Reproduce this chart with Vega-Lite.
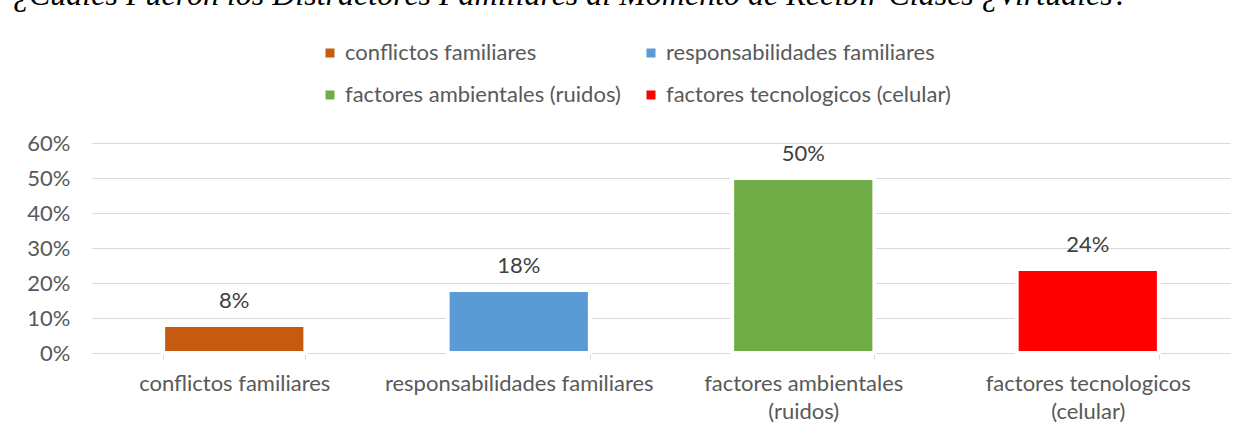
{
  "$schema": "https://vega.github.io/schema/vega-lite/v6.json",
  "width": 1138,
  "height": 210,
  "autosize": {"type": "none"},
  "padding": {"left": 92, "top": 143, "right": 19, "bottom": 83},
  "background": "white",
  "config": {"view": {"stroke": null}},
  "title": {
    "text": "¿Cuales Fueron los Distractores Familiares al Momento de Recibir Clases ¿Virtuales?",
    "anchor": "start",
    "frame": "group",
    "font": "Liberation Serif",
    "fontStyle": "italic",
    "fontWeight": "normal",
    "fontSize": 32,
    "color": "#000000",
    "dx": -79,
    "dy": -30,
    "offset": 0
  },
  "data": {
    "values": [
      {"categoria": "conflictos familiares", "valor": 0.08, "etiqueta": "8%"},
      {"categoria": "responsabilidades familiares", "valor": 0.18, "etiqueta": "18%"},
      {"categoria": "factores ambientales (ruidos)", "valor": 0.50, "etiqueta": "50%"},
      {"categoria": "factores tecnologicos (celular)", "valor": 0.24, "etiqueta": "24%"}
    ]
  },
  "encoding": {
    "x": {
      "field": "categoria",
      "type": "nominal",
      "sort": null,
      "scale": {"paddingInner": 0.5, "paddingOuter": 0.25},
      "axis": {
        "title": null,
        "labelAngle": 0,
        "labelFont": "Lato",
        "labelFontSize": 22,
        "labelColor": "#595959",
        "labelLineHeight": 28,
        "labelBaseline": "top",
        "labelPadding": 14,
        "labelLimit": 500,
        "labelExpr": "datum.label == 'factores ambientales (ruidos)' ? ['factores ambientales', '(ruidos)'] : datum.label == 'factores tecnologicos (celular)' ? ['factores tecnologicos', '(celular)'] : datum.label",
        "domainColor": "#d9d9d9",
        "domainWidth": 1,
        "tickColor": "#d9d9d9",
        "tickSize": 6,
        "tickBand": "extent",
        "grid": false
      }
    },
    "y": {
      "field": "valor",
      "type": "quantitative",
      "scale": {"domain": [0, 0.6]},
      "axis": {
        "title": null,
        "format": ".0%",
        "values": [0, 0.1, 0.2, 0.3, 0.4, 0.5, 0.6],
        "labelFont": "Lato",
        "labelFontSize": 22,
        "labelColor": "#595959",
        "labelPadding": 22,
        "domain": false,
        "ticks": false,
        "grid": true,
        "gridColor": "#d9d9d9",
        "gridWidth": 1.2
      }
    }
  },
  "layer": [
    {
      "mark": {"type": "bar", "stroke": "white", "strokeWidth": 4},
      "encoding": {
        "color": {
          "field": "categoria",
          "type": "nominal",
          "sort": null,
          "scale": {
            "domain": ["conflictos familiares", "responsabilidades familiares", "factores ambientales (ruidos)", "factores tecnologicos (celular)"],
            "range": ["#C55A11", "#5B9BD5", "#70AD47", "#FF0000"]
          },
          "legend": {
            "title": null,
            "orient": "none",
            "legendX": 227,
            "legendY": -101,
            "direction": "horizontal",
            "columns": 2,
            "columnPadding": 19,
            "rowPadding": 20,
            "padding": 0,
            "symbolType": "square",
            "symbolSize": 81,
            "symbolStrokeWidth": 0,
            "labelFont": "Lato",
            "labelFontSize": 22,
            "labelColor": "#595959",
            "labelOffset": 4,
            "labelLimit": 500
          }
        }
      }
    },
    {
      "mark": {
        "type": "text",
        "font": "Lato",
        "fontSize": 22,
        "color": "#404040",
        "baseline": "alphabetic",
        "dy": -17.5
      },
      "encoding": {
        "text": {"field": "etiqueta"}
      }
    }
  ]
}
